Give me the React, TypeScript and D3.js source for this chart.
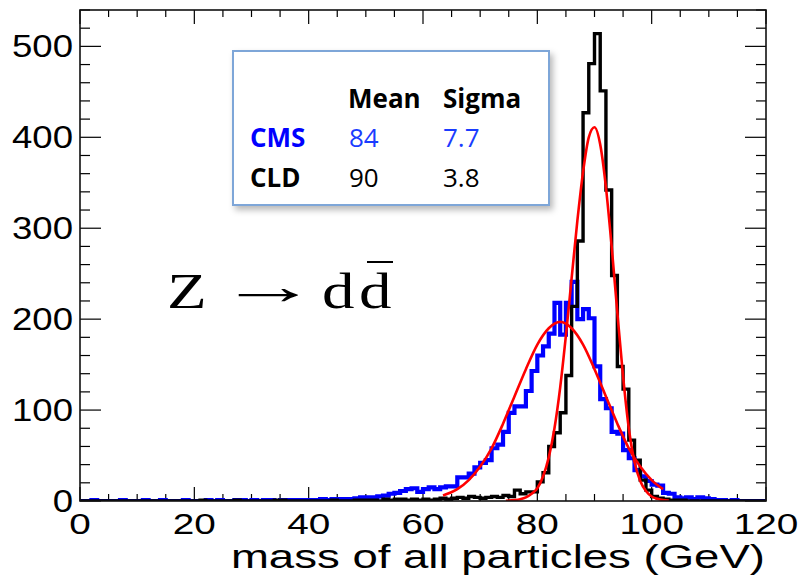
import * as d3 from "d3";

// mass bins are 1 GeV wide, bin k covers [k, k+1)
const binWidth = 1;

const cmsCounts = [
  0, 0, 1, 0, 0, 0, 0, 1, 0, 0,
  0, 1, 0, 0, 1, 0, 0, 0, 1, 0,
  0, 0, 1, 0, 1, 0, 0, 1, 1, 0,
  1, 0, 1, 1, 0, 1, 1, 1, 1, 1,
  1, 1, 2, 1, 2, 2, 2, 2, 3, 4,
  4, 4, 5, 6, 8, 9, 11, 13, 14, 10,
  13, 15, 13, 15, 16, 16, 26, 26, 30, 37,
  42, 45, 58, 62, 76, 97, 104, 104, 121, 143,
  160, 170, 184, 218, 183, 218, 241, 200, 211, 201,
  148, 112, 102, 76, 74, 56, 47, 34, 27, 22,
  18, 17, 9, 8, 4, 3, 4, 2, 4, 3,
  2, 1, 1, 0, 1, 0, 0, 0, 0, 0,
];

const cldCounts = [
  0, 0, 0, 0, 0, 0, 0, 0, 0, 0,
  0, 0, 0, 0, 0, 0, 0, 0, 0, 0,
  0, 1, 0, 0, 0, 0, 0, 1, 0, 0,
  0, 0, 0, 0, 1, 1, 0, 0, 0, 0,
  0, 0, 0, 0, 1, 0, 0, 0, 1, 1,
  1, 1, 0, 2, 1, 2, 2, 1, 2, 1,
  2, 1, 2, 3, 2, 3, 4, 3, 5, 4,
  3, 4, 5, 4, 6, 5, 12, 8, 10, 10,
  21, 31, 60, 75, 97, 138, 214, 286, 427, 481,
  514, 451, 342, 248, 148, 123, 67, 45, 23, 12,
  5, 3, 2, 1, 1, 1, 0, 0, 0, 0,
  0, 0, 0, 0, 0, 0, 0, 0, 0, 0,
];

// fitted curves
const cmsFitMass = [63.5, 66, 68, 70, 72, 74, 76, 78, 80, 82, 84, 86, 88, 90, 92, 94, 96, 98, 100, 102];
const cmsFitValue = [6, 13, 23, 38, 58, 85, 115, 145, 172, 190, 197, 190, 172, 145, 115, 85, 58, 38, 23, 13];

const cldFitMass = [74.5, 76, 77, 78, 79, 80, 81, 82, 83, 84, 85, 86, 87, 88, 89, 90, 91, 92, 93, 94, 95, 96, 97, 98, 99, 100, 101, 102, 103];
const cldFitValue = [0.3, 1, 2, 4, 8, 14, 27, 48, 80, 125, 182, 245, 308, 362, 400, 411, 392, 345, 280, 207, 137, 80, 43, 22, 11, 5, 2.5, 1, 0.5];

const xTicks = [0, 20, 40, 60, 80, 100, 120];
const yTicks = [0, 100, 200, 300, 400, 500];

const legendHeader = ["Mean", "Sigma"];
const legendRows = [
  { name: "CMS", mean: "84", sigma: "7.7", color: "#0000ff", valueColor: "#1a3cff" },
  { name: "CLD", mean: "90", sigma: "3.8", color: "#000000", valueColor: "#000000" },
];

const x = d3.scaleLinear().domain([0, 120]).range([80, 766]);
const y = d3.scaleLinear().domain([0, 540]).range([501, 10]);

function histPath(counts: number[]) {
  const pts: [number, number][] = counts.map((c, i) => [i * binWidth, c]);
  pts.push([counts.length * binWidth, counts[counts.length - 1]]);
  return d3
    .line<[number, number]>()
    .x((d) => x(d[0]))
    .y((d) => y(d[1]))
    .curve(d3.curveStepAfter)(pts);
}

function fitPath(mass: number[], values: number[]) {
  return d3
    .line<number>()
    .x((d) => x(d))
    .y((_, i) => y(values[i]))
    .curve(d3.curveMonotoneX)(mass);
}

const axisFont = "'Liberation Sans', Arial, Helvetica, sans-serif";

export default function App() {
  const [x0, x1] = x.range();
  const [yb, yt] = y.range();
  const xMinor = d3.range(0, 121, 5);
  const yMinor = d3.range(0, 541, 20);

  return (
    <div style={{ position: "absolute", left: 0, top: 0 }}>
      <svg width={798} height={577} style={{ display: "block", background: "#fff" }}>
        <defs>
          <filter id="shadow" x="-10%" y="-10%" width="130%" height="140%">
            <feDropShadow dx="3" dy="4" stdDeviation="3" floodColor="#000" floodOpacity="0.28" />
          </filter>
          <clipPath id="plot">
            <rect x={x0} y={yt} width={x1 - x0} height={yb - yt} />
          </clipPath>
        </defs>

        {/* ticks */}
        <g stroke="#000" strokeWidth={1.2}>
          {xMinor.map((t) => {
            const len = t % 20 === 0 ? 14 : 7;
            return (
              <g key={"xt" + t}>
                <line x1={x(t)} x2={x(t)} y1={yb} y2={yb - len} />
                <line x1={x(t)} x2={x(t)} y1={yt} y2={yt + len} />
              </g>
            );
          })}
          {yMinor.map((t) => {
            const len = t % 100 === 0 ? 21 : 10;
            return (
              <g key={"yt" + t}>
                <line x1={x0} x2={x0 + len} y1={y(t)} y2={y(t)} />
                <line x1={x1} x2={x1 - len} y1={y(t)} y2={y(t)} />
              </g>
            );
          })}
        </g>

        {/* histograms and fits */}
        <g clipPath="url(#plot)" fill="none" strokeLinejoin="miter">
          <path d={histPath(cmsCounts) ?? ""} stroke="#0000ff" strokeWidth={4.2} />
          <path d={histPath(cldCounts) ?? ""} stroke="#000" strokeWidth={3.4} />
          <path d={fitPath(cmsFitMass, cmsFitValue) ?? ""} stroke="#ff0000" strokeWidth={2.6} />
          <path d={fitPath(cldFitMass, cldFitValue) ?? ""} stroke="#ff0000" strokeWidth={2.6} />
        </g>

        {/* frame */}
        <rect x={x0} y={yt} width={x1 - x0} height={yb - yt} fill="none" stroke="#111" strokeWidth={1.6} />

        {/* tick labels */}
        <g fontFamily={axisFont} fontSize={30} fill="#000">
          {xTicks.map((t) => (
            <text key={"xl" + t} transform={`translate(${x(t)},534) scale(1.29,1)`} textAnchor="middle">
              {t}
            </text>
          ))}
          {yTicks.map((t) => (
            <text key={"yl" + t} transform={`translate(73,${y(t) + 11}) scale(1.18,1)`} textAnchor="end" fontSize={31}>
              {t}
            </text>
          ))}
          <text transform="translate(765,568) scale(1.34,1)" textAnchor="end" fontSize={34}>
            mass of all particles (GeV)
          </text>
        </g>

        {/* process label */}
        <g fontFamily="'Liberation Serif', 'Times New Roman', serif" fontSize={50} fill="#000">
          <text transform="translate(167,308) scale(1.3,1)">Z</text>
          <text transform="translate(218,304) scale(2.0,1.05)">→</text>
          <text transform="translate(322,308) scale(1.3,1)">d</text>
          <text transform="translate(359,308) scale(1.3,1)">d</text>
          <line x1={367} x2={393} y1={262} y2={262} stroke="#000" strokeWidth={2} />
        </g>

        {/* legend box */}
        <rect x={233} y={51} width={316} height={154} fill="#fff" stroke="#7ea6d8" strokeWidth={2} filter="url(#shadow)" />
        <g fontFamily="'Open Sans', 'Noto Sans', sans-serif" fontSize={26}>
          {legendHeader.map((h, i) => (
            <text key={h} x={i === 0 ? 348 : 443} y={108} fontWeight="bold" fill="#000">
              {h}
            </text>
          ))}
          {legendRows.map((r, i) => (
            <g key={r.name}>
              <text x={250} y={147 + i * 40} fontWeight="bold" fill={r.color}>
                {r.name}
              </text>
              <text x={349} y={147 + i * 40} fill={r.valueColor}>
                {r.mean}
              </text>
              <text x={443} y={147 + i * 40} fill={r.valueColor}>
                {r.sigma}
              </text>
            </g>
          ))}
        </g>
      </svg>
    </div>
  );
}
